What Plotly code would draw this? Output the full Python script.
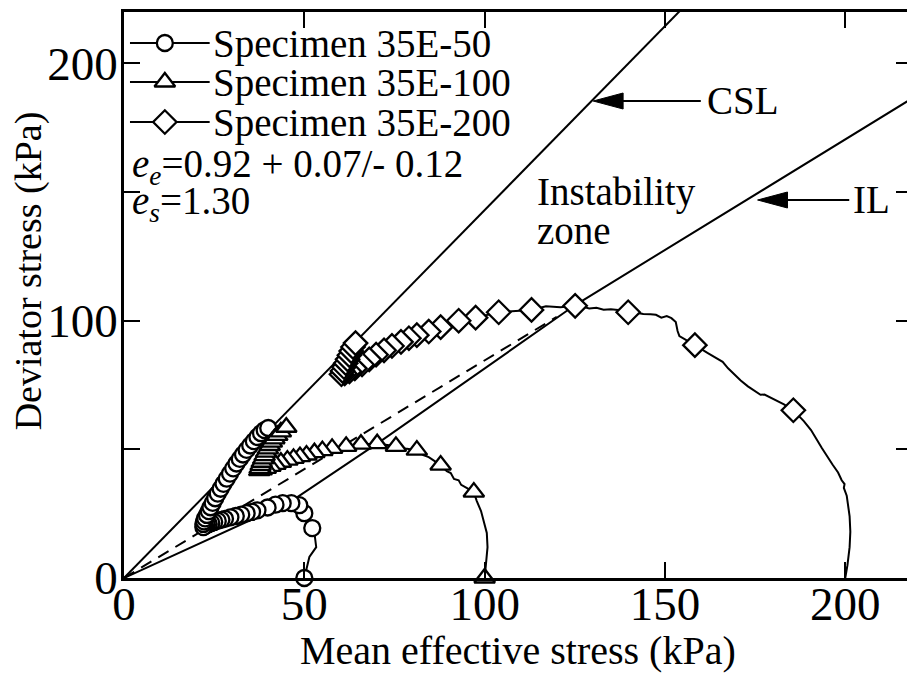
import plotly.graph_objects as go

# ---- data (p' = mean effective stress, q = deviator stress, kPa)
# Specimen 35E-50 : stress path (line) and the plotted symbols
p50_path = [50, 50.8, 51.4, 53.3, 52.8, 52.2, 51.2, 50, 48.6, 46.4, 44, 42, 39.8, 37, 35.5, 34, 32.5,
            31, 29.5, 28, 27, 26, 25, 24.2, 23.5, 23, 22.5, 22.2, 22, 22, 22.2, 22.5, 23, 23.5, 24,
            24.6, 25.3, 26, 26.8, 27.6, 28.5, 29.4, 30.3, 31.2, 32.1, 33, 34, 35, 36, 37, 38, 39, 40]
q50_path = [0, 4.3, 8.2, 12, 17.5, 19.4, 22.5, 25.2, 28.3, 29.1, 29.1, 28.5, 27.4, 26.3, 25.7, 25.2, 24.6,
            24.1, 23.6, 23, 22.6, 22.2, 21.8, 21.4, 21, 20.7, 20.3, 20, 19.8, 21, 22, 23.2, 24.5, 26, 27.5,
            29.2, 31, 32.8, 34.7, 36.6, 38.6, 40.6, 42.6, 44.5, 46.3, 48, 49.8, 51.5, 53.2, 54.8, 56.3, 57.5, 58.3]
p50_mark = [50, 52.2, 50, 48.6, 46.4, 44, 42, 39.8, 37, 35.5, 34, 32.5, 31, 29.5, 28, 27, 26, 25, 24.2,
            23.5, 23, 22.5, 22.2, 22, 22, 22.2, 22.5, 23, 23.5, 24, 24.6, 25.3, 26, 26.8, 27.6, 28.5,
            29.4, 30.3, 31.2, 32.1, 33, 34, 35, 36, 37, 38, 39, 40]
q50_mark = [0, 19.4, 25.2, 28.3, 29.1, 29.1, 28.5, 27.4, 26.3, 25.7, 25.2, 24.6, 24.1, 23.6, 23, 22.6,
            22.2, 21.8, 21.4, 21, 20.7, 20.3, 20, 19.8, 21, 22, 23.2, 24.5, 26, 27.5, 29.2, 31, 32.8,
            34.7, 36.6, 38.6, 40.6, 42.6, 44.5, 46.3, 48, 49.8, 51.5, 53.2, 54.8, 56.3, 57.5, 58.3]

# Specimen 35E-100
p100_path = [100, 100.3, 100.8, 100.6, 99.8, 99, 97.8, 97, 95, 93.5, 92.8, 91.5, 90.6, 89.5, 87.8, 86,
             84.5, 83, 81.2, 78, 75.4, 72.5, 70.2, 65.7, 61.6, 57.7, 55, 52.8, 50.6, 48.8, 47, 45.3,
             43.5, 42, 40.6, 39.3, 38.2, 37.5, 37.6, 37.9, 38.2, 38.6, 39, 39.4, 39.9, 40.4, 41, 41.7,
             42.5, 43.5, 45]
q100_path = [0, 5, 12, 17.5, 22, 26, 30, 33.4, 35, 36.2, 38, 38.5, 40.8, 41.5, 43.9, 45.5,
             47, 47.8, 49.7, 50.3, 51.2, 51.8, 52.2, 52, 51.2, 50.4, 49.5, 48.7, 47.8, 47.2, 46.5, 45.8,
             45, 44.2, 43.4, 42.6, 42, 41.7, 42.6, 43.8, 45, 46.3, 47.6, 48.9, 50.2, 51.5, 52.8, 54.1,
             55.4, 56.8, 58.6]
p100_mark = [100, 97, 87.8, 81.2, 75.4, 70.2, 65.7, 61.6, 57.7, 55, 52.8, 50.6, 48.8, 47, 45.3, 43.5,
             42, 40.6, 39.3, 38.2, 37.5, 37.6, 37.9, 38.2, 38.6, 39, 39.4, 39.9, 40.4, 41, 41.7, 42.5,
             43.5, 45]
q100_mark = [0, 33.4, 43.9, 49.7, 51.2, 52.2, 52, 51.2, 50.4, 49.5, 48.7, 47.8, 47.2, 46.5, 45.8, 45,
             44.2, 43.4, 42.6, 42, 41.7, 42.6, 43.8, 45, 46.3, 47.6, 48.9, 50.2, 51.5, 52.8, 54.1, 55.4,
             56.8, 58.6]

# Specimen 35E-200
p200_path = [200, 200.6, 201.2, 201.4, 201.2, 200.8, 200.4, 199.6, 199.8, 199, 198, 196.5, 195, 193.5,
             192, 190.5, 188.5, 185.6, 183, 181, 179, 177.6, 176.5, 175, 173, 171, 169.3, 167.5, 166,
             164, 162, 158.3, 156, 154, 153.5, 153, 151.8, 150.5, 149, 147.5, 146, 144, 142, 139.8,
             137, 135, 133, 131, 129, 127, 125.1, 121, 117, 113, 103.9, 97.5, 92.8, 87.8, 84.5, 81.2,
             79, 76.8, 74.3, 72.1, 69.9, 68, 66, 64, 62.5, 61.2, 60.3, 60.6, 61, 61.5, 62, 62.5, 63,
             63.5, 64.2]
q200_path = [0, 5, 12, 18, 24, 29, 32, 35, 36.5, 38, 41, 44, 47, 50.5,
             54, 57.5, 61, 65.2, 67.5, 69, 70.2, 71.3, 71.2, 72.5, 74.5, 76.8, 79, 81.5, 84,
             85.8, 87.3, 90.5, 92.5, 94, 96, 99.5, 101, 101.8, 101.2, 102.3, 102.5, 102.6, 103.1, 103.3,
             104.2, 104.5, 104.3, 105, 104.8, 105.5, 105.8, 105.2, 105.6, 104.2, 103.3, 101.2, 100, 97.5,
             95.8, 94.4, 93.2, 91.8, 90.2, 88.5, 86.8, 85, 83, 81.5, 80.3, 79.5, 79.2, 80.5, 82, 83.5,
             85, 86.6, 88.2, 89.8, 91.3]
p200_mark = [185.6, 158.3, 139.8, 125.1, 113, 103.9, 97.5, 92.8, 87.8, 84.5, 81.2, 79, 76.8, 74.3,
             72.1, 69.9, 68, 66, 64, 62.5, 61.2, 60.3, 60.6, 61, 61.5, 62, 62.5, 63, 63.5, 64.2]
q200_mark = [65.2, 90.5, 103.3, 105.8, 104.2, 103.3, 101.2, 100, 97.5, 95.8, 94.4, 93.2, 91.8, 90.2,
             88.5, 86.8, 85, 83, 81.5, 80.3, 79.5, 79.2, 80.5, 82, 83.5, 85, 86.6, 88.2, 89.8, 91.3]

# reference lines
csl_p = [0, 160]
csl_q = [0, 228.8]
il_p = [0, 46, 71, 125, 218.5]
il_q = [0, 29.5, 53, 106, 186.4]
dash_p = [0, 120]
dash_q = [0, 101.5]

specimens = ["Specimen 35E-50", "Specimen 35E-100", "Specimen 35E-200"]
symbols = ["circle", "triangle-up", "diamond"]
sizes = [16, 18, 18]

FONT = "Liberation Serif"
OFF = 8                      # the page body margin shifts the figure by this much
W, H = 915 - OFF, 675 - OFF
L, R, T, B = 124 - OFF, 0, 12 - OFF, 97
XMAX, YMAX = 218.5, 220


def px(x, y):
    # position in the 915x675 window -> paper fraction
    fx, fy = x - OFF, y - OFF
    return (fx - L) / (W - L - R), (H - B - fy) / (H - T - B)


fig = go.Figure()

# reference lines
fig.add_trace(go.Scatter(x=csl_p, y=csl_q, mode="lines", line=dict(color="black", width=2),
                         showlegend=False, hoverinfo="skip"))
fig.add_trace(go.Scatter(x=il_p, y=il_q, mode="lines", line=dict(color="black", width=2),
                         showlegend=False, hoverinfo="skip"))
fig.add_trace(go.Scatter(x=dash_p, y=dash_q, mode="lines", line=dict(color="black", width=2, dash="12px,8px"),
                         showlegend=False, hoverinfo="skip"))

paths = [(p50_path, q50_path), (p100_path, q100_path), (p200_path, q200_path)]
marks = [(p50_mark, q50_mark), (p100_mark, q100_mark), (p200_mark, q200_mark)]

for (pp, qq), (pm, qm), name, sym, sz in zip(paths, marks, specimens, symbols, sizes):
    fig.add_trace(go.Scatter(x=pp, y=qq, mode="lines", line=dict(color="black", width=2),
                             showlegend=False, hoverinfo="skip"))
    fig.add_trace(go.Scatter(x=pm, y=qm, mode="markers", name=name, showlegend=False,
                             marker=dict(symbol=sym, size=sz, color="white",
                                         line=dict(color="black", width=2.3)), cliponaxis=False))

# hand-drawn legend (keys on an overlay axis in paper units)
leg_rows = [43, 82, 122]
for name, sym, sz, row in zip(specimens, symbols, sizes, leg_rows):
    x0, yy = px(130, row)
    x1, _ = px(210, row)
    xm, _ = px(165, row)
    fig.add_trace(go.Scatter(x=[x0, x1], y=[yy, yy], mode="lines", line=dict(color="black", width=2),
                             xaxis="x2", yaxis="y2", showlegend=False, hoverinfo="skip"))
    fig.add_trace(go.Scatter(x=[xm], y=[yy], mode="markers", xaxis="x2", yaxis="y2", showlegend=False,
                             marker=dict(symbol=sym, size=sz, color="white", line=dict(color="black", width=2.3)),
                             hoverinfo="skip"))
    tx, ty = px(211, row + 1)
    fig.add_annotation(x=tx, y=ty, xref="paper", yref="paper", text=name, showarrow=False,
                       xanchor="left", yanchor="middle", font=dict(size=39))

texts = [
    ("<i>e</i><sub><i>e</i></sub>=0.92 + 0.07/- 0.12", 130, 166),
    ("<i>e</i><sub><i>s</i></sub>=1.30", 130, 204),
    ("Instability", 537, 192),
    ("zone", 537, 231),
    ("CSL", 707, 100),
    ("IL", 854, 199),
]
for t, x, y in texts:
    tx, ty = px(x, y)
    fig.add_annotation(x=tx, y=ty, xref="paper", yref="paper", text=t, showarrow=False,
                       xanchor="left", yanchor="middle", font=dict(size=39))

# arrows (shaft + filled head), window pixel geometry converted to data units
sx = (W - L - R) / XMAX
sy = (H - T - B) / YMAX
arrows = [(595, 101, 703), (760, 200, 852)]
for tipx, tipy, tailx in arrows:
    x_tip = (tipx - OFF - L) / sx
    y_tip = (H - B - (tipy - OFF)) / sy
    x_tail = (tailx - OFF - L) / sx
    hl, hw = 30 / sx, 8 / sy
    fig.add_shape(type="line", x0=x_tip + hl * 0.5, x1=x_tail, y0=y_tip, y1=y_tip,
                  line=dict(color="black", width=2), xref="x", yref="y")
    fig.add_shape(type="path", xref="x", yref="y", fillcolor="black", line=dict(color="black", width=1),
                  path=f"M{x_tip},{y_tip} L{x_tip + hl},{y_tip + hw} L{x_tip + hl},{y_tip - hw} Z")

# axis titles
tx, ty = px(519, 650)
fig.add_annotation(x=tx, y=ty, xref="paper", yref="paper", text="Mean effective stress (kPa)",
                   showarrow=False, xanchor="center", yanchor="middle", font=dict(size=40))
tx, ty = px(28, 271)
fig.add_annotation(x=tx, y=ty, xref="paper", yref="paper", text="Deviator stress (kPa)", textangle=-90,
                   showarrow=False, xanchor="center", yanchor="middle", font=dict(size=38))

axis_common = dict(showgrid=False, zeroline=False, ticks="inside", ticklen=16, tickwidth=2,
                   linewidth=2.5, linecolor="black", tickcolor="black", mirror="ticks",
                   tickfont=dict(size=47, family=FONT, color="black"))

fig.update_layout(
    width=W, height=H,
    margin=dict(l=L, r=R, t=T, b=B),
    paper_bgcolor="white", plot_bgcolor="white",
    font=dict(family=FONT, color="black"),
    showlegend=False,
    xaxis=dict(range=[0, XMAX], tick0=0, dtick=50, ticklabelstandoff=-17, **axis_common),
    yaxis=dict(range=[0, YMAX], tick0=0, dtick=100, ticklabelstandoff=-6,
               minor=dict(dtick=50, ticks="inside", ticklen=16, tickwidth=2, tickcolor="black"),
               **axis_common),
    xaxis2=dict(overlaying="x", range=[0, 1], visible=False, anchor="y2"),
    yaxis2=dict(overlaying="y", range=[0, 1], visible=False, anchor="x2"),
)

fig.write_html("out.html")
